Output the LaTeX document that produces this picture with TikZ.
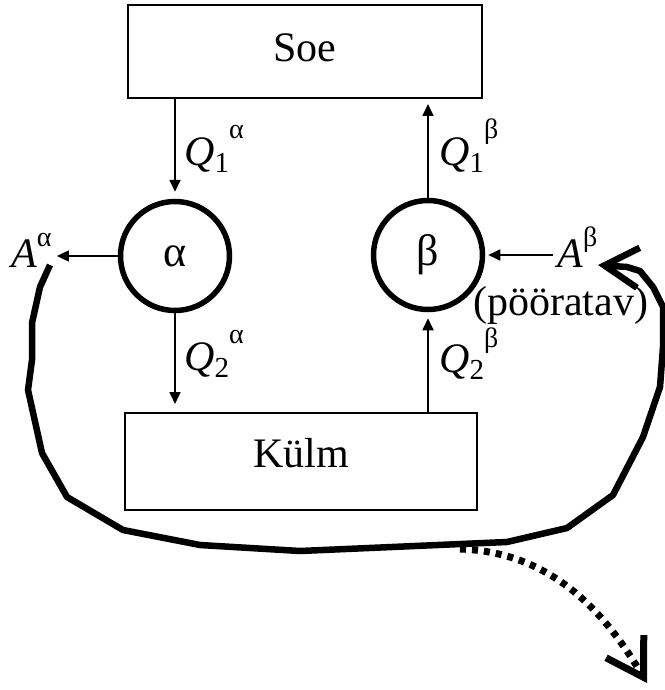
\documentclass[tikz,border=0pt]{standalone}
\usepackage{fontspec}
\setmainfont{Liberation Serif}
\usetikzlibrary{arrows.meta}
\usetikzlibrary{positioning}
\newcommand{\qlo}[1]{\raisebox{-7pt}{\fontsize{29}{29}\selectfont #1}}
\newcommand{\qhi}[2][27pt]{\raisebox{#1}{\fontsize{28}{28}\selectfont #2}}
\tikzstyle{every node}=[inner sep=0pt, font=\fontsize{42}{46}\selectfont]
\tikzstyle{body}=[circle, draw=black, line width=5.5pt, minimum size=109pt]
\tikzset{
  box/.style={rectangle, draw, line width=2pt, text height=29pt},
  flow/.style={-{Triangle[length=12pt, width=11pt]}, line width=1.7pt},
  loop_line/.style={line width=6.5pt, line join=round, -{Straight Barb[length=34pt, width=40pt, line width=6.5pt]}},
  dots_line/.style={line width=7pt, dash pattern=on 6pt off 6pt, -{Straight Barb[length=36pt, width=44pt, line width=7pt]}},
}

\begin{document}
\begin{tikzpicture}[x=1pt, y=-1pt]
\useasboundingbox (0,0) rectangle (664,690);

\node[box, text depth=8pt, minimum width=354pt, minimum height=93pt] (soe) at (305,51.5) {Soe};
\node[box, text depth=18pt, minimum width=352pt, minimum height=97pt] (kylm) at (301,461.5) {Külm};

\node[body, font=\fontsize{44}{46}\selectfont] (alpha) at (175,256) {α};
\node[body, font=\fontsize{44}{46}\selectfont] (beta) at (428,255) {β};

\node[anchor=base west] (q1a) at (184,165) {\textit{Q}\qlo{1}\qhi{α}};
\node[anchor=base west] (q1b) at (439,165) {\textit{Q}\qlo{1}\qhi{β}};
\node[anchor=base west] (q2a) at (184,370) {\textit{Q}\qlo{2}\qhi{α}};
\node[anchor=base west] (q2b) at (439,372) {\textit{Q}\qlo{2}\qhi[25pt]{β}};
\node[anchor=base west] (Aa) at (11,267) {\textit{A}\qhi[21pt]{α}};
\node[anchor=base west] (Ab) at (557,267) {\textit{A}\qhi[21pt]{β}};
\node[anchor=base west] (rev) at (473,315) {(pööratav)};

% heat and work
\draw[flow, shorten >=7pt] (alpha.north |- soe.south) -- (alpha.north);
\draw[flow, shorten >=5pt] (beta.north) -- (beta.north |- soe.south);
\draw[flow, shorten >=8pt] (alpha.south) -- (alpha.south |- kylm.north);
\draw[flow, shorten >=6pt] (beta.south |- kylm.north) -- (beta.south);
\draw[flow, shorten >=5pt] (alpha.west) -- (alpha.west -| Aa.east);
\draw[flow, shorten <=4pt, shorten >=3pt] (beta.east -| Ab.west) -- (beta.east);

% reversing
\coordinate (loopa) at (50,265);
\coordinate (loopb) at (598,265);
\draw[loop_line] (loopa) -- (40,287) -- (32,323) -- (32,360) -- (28,390) -- (42,453)
  -- (67,497) -- (123,530) -- (200,545) -- (300,551) -- (507,542) -- (567,528)
  -- (613,495) -- (643,437) -- (660,387) -- (663,347) -- (663,307) -- (653,287)
  -- (640,271) -- (627,267) -- (loopb);
\coordinate (outa) at (460,549);
\coordinate (outb) at (647,683);
\draw[dots_line] (outa) .. controls (560,552) and (612,625) .. (outb);

\end{tikzpicture}
\end{document}
